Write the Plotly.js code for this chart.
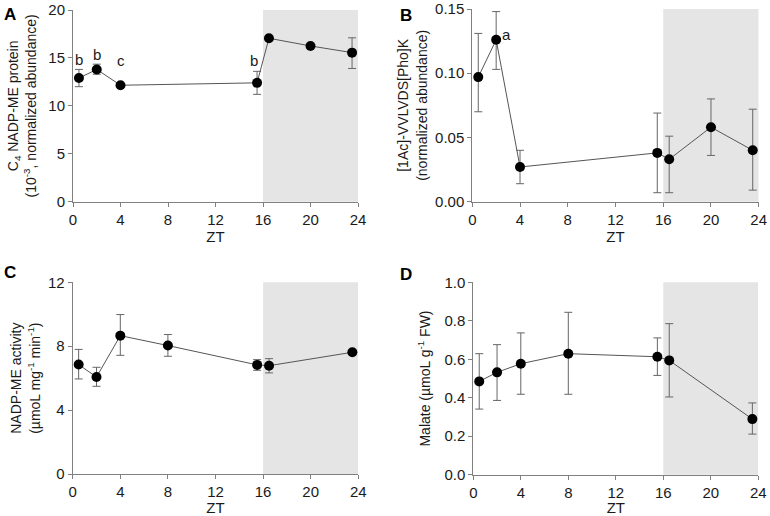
<!DOCTYPE html>
<html>
<head>
<meta charset="utf-8">
<script src="https://cdn.plot.ly/plotly-3.0.1.min.js"></script>
<style>html,body{margin:0;padding:0;background:#fff;}#chart{width:770px;height:516px;}</style>
</head>
<body>
<div id="chart"></div>
<script>
// Time points (ZT, h)
const ztAB = [0.5, 2, 4, 15.5, 16.5, 20, 23.5];
const ztCD = [0.5, 2, 4, 8, 15.5, 16.5, 23.5];

// A: C4 NADP-ME protein (10^-3, normalized abundance)
const proteinMean = [12.9, 13.8, 12.15, 12.4, 17.05, 16.25, 15.55];
const proteinErrPlus = [0.9, 0.55, 0, 1.2, 0, 0, 1.55];
const proteinErrMinus = [0.9, 0.5, 0, 1.2, 0, 0, 1.65];

// B: [1Ac]-VVLVDS[Pho]K (normalized abundance)
const phosphoMean = [0.097, 0.126, 0.027, 0.038, 0.033, 0.058, 0.040];
const phosphoErrPlus = [0.034, 0.022, 0.013, 0.031, 0.018, 0.022, 0.032];
const phosphoErrMinus = [0.027, 0.023, 0.013, 0.031, 0.026, 0.022, 0.031];

// C: NADP-ME activity
const activityMean = [6.85, 6.07, 8.66, 8.04, 6.83, 6.78, 7.62];
const activityErrPlus = [0.95, 0.61, 1.32, 0.69, 0.33, 0.44, 0];
const activityErrMinus = [0.9, 0.58, 1.23, 0.67, 0.34, 0.45, 0];

// D: Malate
const malateMean = [0.485, 0.532, 0.577, 0.629, 0.613, 0.594, 0.289];
const malateErrPlus = [0.144, 0.144, 0.16, 0.215, 0.098, 0.191, 0.084];
const malateErrMinus = [0.144, 0.146, 0.159, 0.211, 0.097, 0.19, 0.078];

// Significance letters
const letterA = {x: [0.5, 2, 4, 15.2], y: [14.8, 15.4, 14.7, 14.7], text: ['b', 'b', 'c', 'b']};
const letterB = {x: [2.85], y: [0.1305], text: ['a']};

const xTicks = [0, 4, 8, 12, 16, 20, 24];
const darkStart = 16, darkEnd = 24;

const FONT = '"Liberation Sans", Arial, sans-serif';
const W = 770, H = 516;

function trace(x, y, plus, minus, xa, ya) {
  return {
    x: x, y: y, xaxis: xa, yaxis: ya, type: 'scatter', mode: 'lines+markers',
    line: {color: '#555555', width: 1},
    marker: {color: '#000000', size: 10},
    error_y: {type: 'data', symmetric: false, array: plus, arrayminus: minus,
              color: '#666666', thickness: 1, width: 4},
    showlegend: false, hoverinfo: 'x+y'
  };
}

const data = [
  trace(ztAB, proteinMean, proteinErrPlus, proteinErrMinus, 'x', 'y'),
  trace(ztAB, phosphoMean, phosphoErrPlus, phosphoErrMinus, 'x2', 'y2'),
  trace(ztCD, activityMean, activityErrPlus, activityErrMinus, 'x3', 'y3'),
  trace(ztCD, malateMean, malateErrPlus, malateErrMinus, 'x4', 'y4')
];

function xAxis(domain, anchor) {
  return {
    domain: domain, anchor: anchor, range: [0, 24], tickvals: xTicks,
    showgrid: false, zeroline: false, showline: true, linecolor: '#808080', linewidth: 1,
    ticks: 'outside', ticklen: 4, tickcolor: '#808080',
    tickfont: {family: FONT, size: 15, color: '#1a1a1a'},
    title: {text: 'ZT', font: {family: FONT, size: 15, color: '#1a1a1a'}, standoff: 4}
  };
}
function yAxis(domain, anchor, range, dtick, fmt, title, standoff) {
  return {
    domain: domain, anchor: anchor, range: range, dtick: dtick, tick0: 0, tickformat: fmt,
    showgrid: false, zeroline: false, showline: true, linecolor: '#808080', linewidth: 1,
    ticks: 'outside', ticklen: 4, tickcolor: '#808080',
    tickfont: {family: FONT, size: 15, color: '#1a1a1a'},
    title: {text: title, font: {family: FONT, size: 14, color: '#1a1a1a'}, standoff: standoff}
  };
}

function px(x) { return x / W; }
function py(y) { return 1 - y / H; }

const shapes = ['x', 'x2', 'x3', 'x4'].map((xa, i) => ({
  type: 'rect', xref: xa, yref: (i === 0 ? 'y' : 'y' + (i + 1)) + ' domain',
  x0: darkStart, x1: darkEnd, y0: 0, y1: 1,
  fillcolor: '#e5e5e5', line: {width: 0}, layer: 'below'
}));

const annotations = [];
[['A', 2, 3], ['B', 398, 4], ['C', 2, 261], ['D', 398, 263]].forEach(([t, x, y]) => {
  annotations.push({text: '<b>' + t + '</b>', xref: 'paper', yref: 'paper', x: px(x), y: py(y),
    xanchor: 'left', yanchor: 'top', showarrow: false,
    font: {family: FONT, size: 17, color: '#000'}});
});
letterA.text.forEach((t, i) => annotations.push({text: t, xref: 'x', yref: 'y', x: letterA.x[i], y: letterA.y[i],
  showarrow: false, font: {family: FONT, size: 15, color: '#1a1a1a'}}));
letterB.text.forEach((t, i) => annotations.push({text: t, xref: 'x2', yref: 'y2', x: letterB.x[i], y: letterB.y[i],
  showarrow: false, font: {family: FONT, size: 15, color: '#1a1a1a'}}));

const layout = {
  width: W, height: H, margin: {l: 0, r: 0, t: 0, b: 0},
  paper_bgcolor: '#ffffff', plot_bgcolor: 'rgba(0,0,0,0)',
  font: {family: FONT},
  xaxis: xAxis([px(73), px(358)], 'y'),
  yaxis: yAxis([py(201.7), py(10)], 'x', [0, 20], 5, '', 'C<sub>4</sub> NADP-ME protein<br>(10<sup>-3</sup>, normalized abundance)', 8),
  xaxis2: xAxis([px(472.3), px(758.7)], 'y2'),
  yaxis2: yAxis([py(201.7), py(9)], 'x2', [0, 0.15], 0.05, '.2f', '[1Ac]-VVLVDS[Pho]K<br>(normalized abundance)', 4),
  xaxis3: xAxis([px(72.7), px(358.3)], 'y3'),
  yaxis3: yAxis([py(474), py(282.3)], 'x3', [0, 12], 4, '', 'NADP-ME activity<br>(µmoL mg<sup>-1</sup> min<sup>-1</sup>)', 4),
  xaxis4: xAxis([px(473.3), px(758.3)], 'y4'),
  yaxis4: yAxis([py(474.7), py(282.3)], 'x4', [0, 1.0], 0.2, '.1f', 'Malate (µmoL g<sup>-1</sup> FW)', 10),
  shapes: shapes,
  annotations: annotations
};

Plotly.newPlot('chart', data, layout, {displayModeBar: false, staticPlot: true});
</script>
</body>
</html>
